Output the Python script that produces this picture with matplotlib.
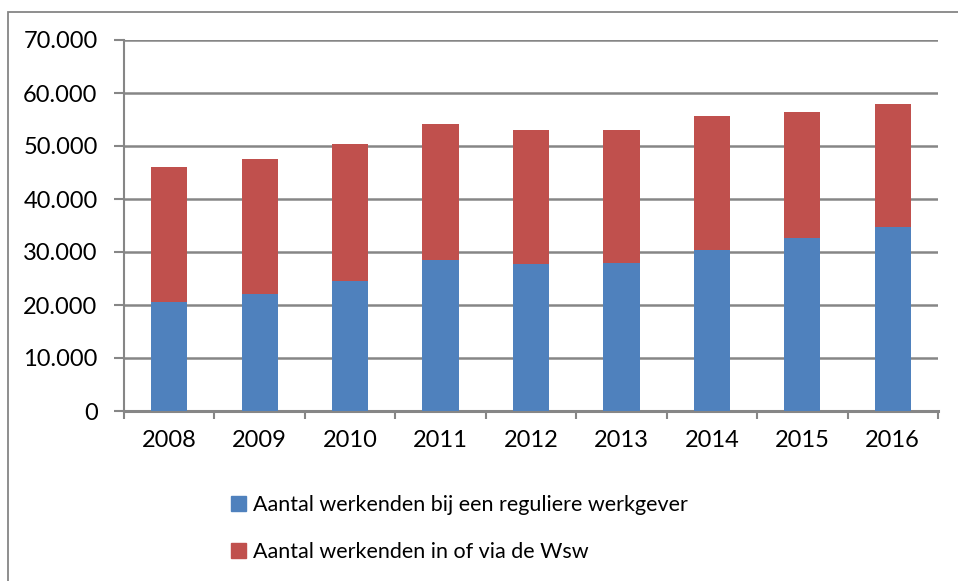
import matplotlib.pyplot as plt
from matplotlib.patches import Rectangle, Patch
import numpy as np

years = ['2008', '2009', '2010', '2011', '2012', '2013', '2014', '2015', '2016']
regulier = [20500, 22000, 24600, 28400, 27700, 28000, 30300, 32600, 34800]
wsw_totaal = [46100, 47600, 50300, 54100, 53000, 53000, 55600, 56400, 57900]
wsw = [t - r for t, r in zip(wsw_totaal, regulier)]

labels = ['Aantal werkenden bij een reguliere werkgever',
          'Aantal werkenden in of via de Wsw']
blue = '#4F81BD'
red = '#C0504D'
grey = '#868686'

plt.rcParams['font.family'] = ['Lato', 'DejaVu Sans']

fig = plt.figure(figsize=(9.58, 5.81), dpi=100)
ax = fig.add_axes([124 / 958, 1 - 411 / 581, (938 - 124) / 958, (411 - 40) / 581])

x = np.arange(len(years))
ax.bar(x, regulier, width=0.4, color=blue, zorder=3)
ax.bar(x, wsw, width=0.4, bottom=regulier, color=red, zorder=3)

ax.set_xlim(-0.5, len(years) - 0.5)
ax.set_ylim(0, 70000)
ax.set_yticks(np.arange(0, 70001, 10000))
ax.set_yticklabels(['0' if v == 0 else f'{v // 1000}.000' for v in range(0, 70001, 10000)])
ax.set_xticks(x)
ax.set_xticklabels(years)
ax.set_xticks(np.arange(-0.5, len(years), 1), minor=True)

ax.yaxis.grid(True, color=grey, linewidth=1.8, zorder=0)
for s in ['top', 'right']:
    ax.spines[s].set_visible(False)
ax.spines['left'].set_color(grey)
ax.spines['left'].set_linewidth(1.5)
ax.spines['bottom'].set_color(grey)
ax.spines['bottom'].set_linewidth(2.2)

ax.tick_params(axis='y', length=7, width=1.5, color=grey, pad=12, labelsize=17)
ax.tick_params(axis='x', which='major', length=0, pad=14, labelsize=17)
ax.tick_params(axis='x', which='minor', length=6, width=1.5, color=grey)

handles = [Patch(color=blue), Patch(color=red)]
fig.legend(handles, labels, loc='upper left', bbox_to_anchor=(220 / 958, 1 - 484 / 581),
           frameon=False, fontsize=15.5, handlelength=0.7, handleheight=0.7,
           handletextpad=0.35, labelspacing=1.25, borderpad=0)

fig.patches.append(Rectangle((8 / 958, -0.1), 1.2, 1.1 - 12 / 581, transform=fig.transFigure,
                             fill=False, edgecolor=grey, linewidth=1.3))

fig.savefig('out.png', dpi=100)
